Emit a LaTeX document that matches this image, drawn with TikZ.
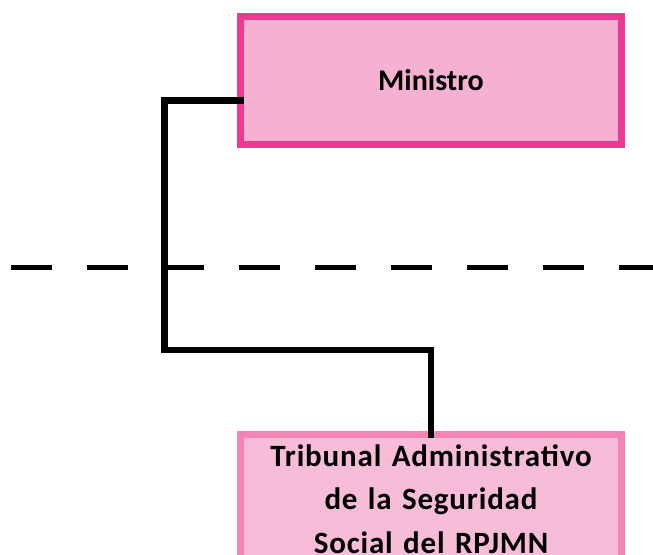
\documentclass[tikz,border=0pt]{standalone}
\usepackage{fontspec}
\setmainfont{Carlito}
\definecolor{ministrofill}{HTML}{F5B0D2}
\definecolor{ministroline}{HTML}{EC3A93}
\definecolor{tribunalfill}{HTML}{F7BCD7}
\definecolor{tribunalline}{HTML}{F285B5}
\begin{document}
\begin{tikzpicture}[x=1pt,y=-1pt,
  orgbox/.style={draw, line width=7pt, outer sep=0pt, minimum width=381pt,
   font=\bfseries\fontsize{30}{43.5}\selectfont, align=center},
  link/.style={line width=6.5pt}]
  \useasboundingbox (0,0) rectangle (653,554);
  \clip (0,0) rectangle (653,554);

  \node[orgbox, fill=ministrofill, draw=ministroline, minimum height=128pt] (ministro) at (431,80.5) {Ministro};
  \node[orgbox, fill=tribunalfill, draw=tribunalline, anchor=north, inner ysep=10pt, text width=370pt,
   font=\bfseries\fontsize{31}{43.5}\selectfont\addfontfeature{LetterSpace=2.7}] (tribunal) at (431,434.5)
   {Tribunal Administrativo\\ de la Seguridad\\ Social del RPJMN};

  % dashed level line
  \coordinate (levelL) at (11,267.5);
  \coordinate (levelR) at (653,267.5);
  \draw[line width=5pt, dash pattern=on 40.7pt off 35.3pt] (levelL) -- (levelR);

  \coordinate (bend) at (164.5,350);
  \draw[link] ([xshift=3pt,yshift=-20pt]ministro.west) -| (bend) -| ([yshift=-3.5pt]tribunal.north);
 \end{tikzpicture}
\end{document}
